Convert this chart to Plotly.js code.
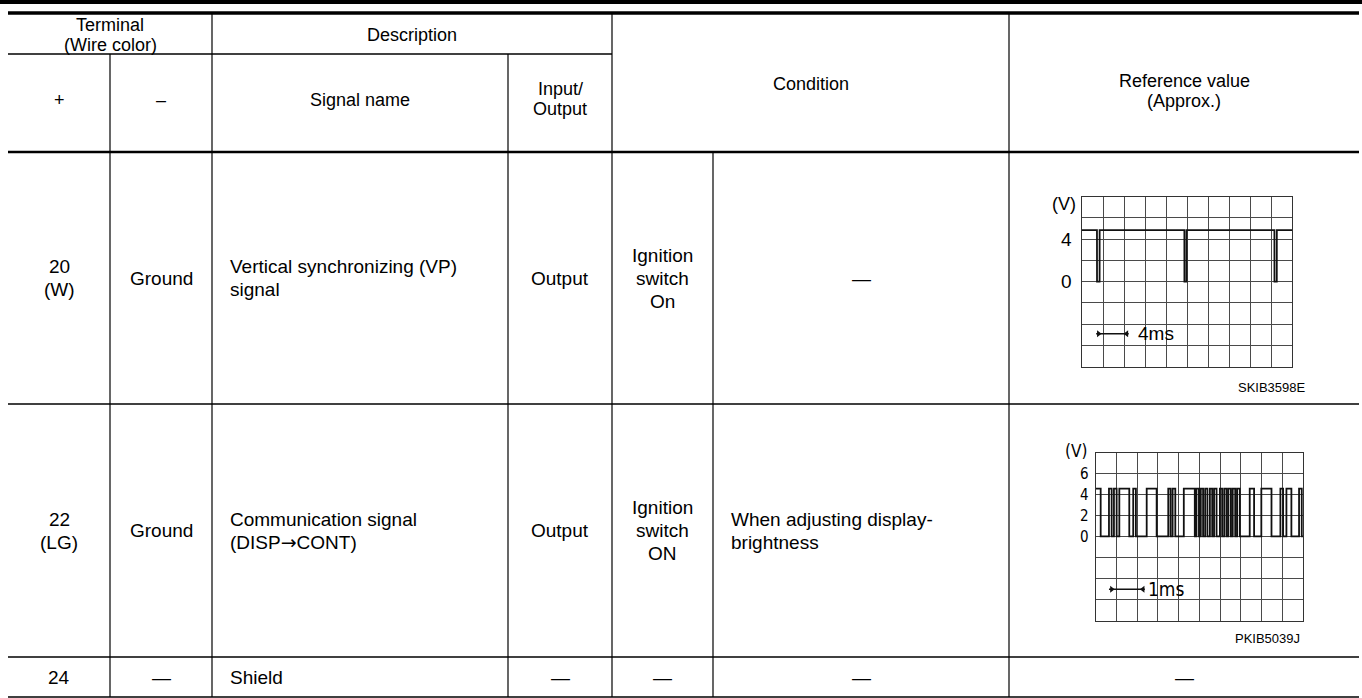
<!DOCTYPE html>
<html>
<head>
<meta charset="utf-8">
<script src="https://cdn.plot.ly/plotly-3.0.1.min.js"></script>
<style>html,body{margin:0;padding:0;background:#fff;}#chart{width:1362px;height:698px;}</style>
</head>
<body>
<div id="chart"></div>
<script>
// ---------- data ----------
const headerTop = ["Terminal<br>(Wire color)", "Description", "Condition", "Reference value<br>(Approx.)"];
const headerSub = ["+", "–", "Signal name", "Input/<br>Output"];
const terminals = ["20<br>(W)", "22<br>(LG)", "24"];
const grounds = ["Ground", "Ground", "—"];
const signalNames = ["Vertical synchronizing (VP)<br>signal", "Communication signal<br>(DISP<span style=\"font-family:DejaVu Sans\">→</span>CONT)", "Shield"];
const ioValues = ["Output", "Output", "—"];
const conditionMain = ["Ignition<br>switch<br>On", "Ignition<br>switch<br>ON", "—"];
const conditionDetail = ["—", "When adjusting display-<br>brightness", "—"];
const referenceText = ["", "", "—"];
const figureCodes = ["SKIB3598E", "PKIB5039J"];

// waveform 1: vertical sync, 4 ms/div, 2 V/div
const vpTime = [0, 2.85, 2.86, 3.35, 3.36, 19.5, 19.51, 19.9, 19.91, 36.65, 36.66, 37.1, 37.11, 40];
const vpVolt = [4.85, 4.85, 0, 0, 4.85, 4.85, 0, 0, 4.85, 4.85, 0, 0, 4.85, 4.85];
const vpTicks = [4, 0];
const vpTickText = ["4", "0"];

// waveform 2: communication signal, 1 ms/div, 2 V/div (step transitions)
const comTime = [0, 0.24, 0.64, 0.77, 0.88, 1.01, 1.14, 1.62, 1.81, 1.94, 2.46, 2.94, 3.50, 3.61, 3.71, 3.84,
  4.25, 4.78, 4.86, 4.98, 5.07, 5.18, 5.28, 5.39, 5.51, 5.62, 5.71, 5.83, 5.99, 6.10, 6.20, 6.31, 6.40,
  6.52, 6.61, 6.73, 6.82, 6.95, 7.43, 7.64, 7.99, 8.48, 8.91, 9.04, 9.20, 9.44, 9.81, 9.94, 10];
const comLevel = ["H","L","H","L","H","L","H","L","H","L","H","L","H","L","H","L",
  "H","L","H","L","H","L","H","L","H","L","H","L","H","L","H","L","H",
  "L","H","L","H","L","H","L","H","L","H","L","H","L","H","L","L"];
const comHigh = 4.6, comLow = 0.05;
const comTicks = [6, 4, 2, 0];
const comTickText = ["6", "4", "2", "0"];

// scale markers
const vpMarkTime = [2.7, 8.9];
const vpMarkHead = [3.15, 8.5];
const vpMarkVolt = -4.9;
const vpMarkLabel = "4ms";
const comMarkTime = [0.64, 2.37];
const comMarkHead = [0.77, 2.28];
const comMarkVolt = -5.0;
const comMarkLabel = "1ms";

// ---------- layout geometry (pixels) ----------
const W = 1362, H = 698;
const L = 8, R = 1359;
const colX = [8, 110, 212, 508, 612, 713, 1009, 1359];
const yTop = 13, yMid = 54, yHead = 152, rowY = [152, 404, 657, 697];

const font = "Liberation Sans, Arial, Helvetica, sans-serif";
const narrow = "Liberation Sans Narrow, DejaVu Sans Condensed, Arial Narrow, sans-serif";
const FS = 19, LS = 23;      // body font size and line step
const HFS = 18, HLS = 20;    // header

const shapes = [];
function hline(y, x0, x1, w) { shapes.push({type:"line", xref:"x", yref:"y", x0:x0, x1:x1, y0:y, y1:y, line:{color:"#000", width:w}}); }
function vline(x, y0, y1, w) { shapes.push({type:"line", xref:"x", yref:"y", x0:x, x1:x, y0:y0, y1:y1, line:{color:"#000", width:w}}); }

// top bars
shapes.push({type:"rect", xref:"x", yref:"y", x0:0, x1:W, y0:0, y1:4, fillcolor:"#000", line:{width:0}});
hline(yTop, L, R, 3.5);
hline(yMid, L, colX[4], 1.5);
hline(yHead, L, R, 2.5);
hline(rowY[1], L, R, 1.5);
hline(rowY[2], L, R, 1.5);
hline(rowY[3], L, R, 1.5);
vline(colX[1], yMid, rowY[3], 1.2);
vline(colX[2], yTop, rowY[3], 1.2);
vline(colX[3], yMid, rowY[3], 1.2);
vline(colX[4], yTop, rowY[3], 1.2);
vline(colX[5], yHead, rowY[3], 1.2);
vline(colX[6], yTop, rowY[3], 1.2);

const ann = [];
// multi-line text, each line placed separately so the line step can be controlled
function txt(t, x, y, xa, size, step, fam) {
  const lines = t.split("<br>");
  const s = size || FS, st = step || LS;
  lines.forEach((ln, i) => {
    ann.push({text:ln, xref:"x", yref:"y", x:x, y:y + (i - (lines.length - 1) / 2) * st, xanchor:xa || "center", yanchor:"middle",
      showarrow:false, font:{family:fam || font, size:s, color:"#000"}});
  });
}
const cx = i => (colX[i] + colX[i+1]) / 2;

// header
txt(headerTop[0], (colX[0]+colX[2])/2, (yTop+yMid)/2 + 1, "center", HFS, HLS);
txt(headerTop[1], (colX[2]+colX[4])/2, (yTop+yMid)/2 + 1, "center", HFS, HLS);
txt(headerTop[2], (colX[4]+colX[6])/2, 84, "center", HFS, HLS);
txt(headerTop[3], (colX[6]+colX[7])/2, 91, "center", HFS, HLS);
txt(headerSub[0], cx(0), 100, "center", HFS, HLS);
txt(headerSub[1], cx(1), 100, "center", HFS, HLS);
txt(headerSub[2], cx(2), 100, "center", HFS, HLS);
txt(headerSub[3], cx(3), 99, "center", HFS, HLS);

for (let r = 0; r < 3; r++) {
  const yc = (rowY[r] + rowY[r+1]) / 2;
  txt(terminals[r], cx(0), yc);
  txt(grounds[r], cx(1), yc);
  txt(signalNames[r], colX[2] + 16, yc, "left");
  txt(ioValues[r], cx(3), yc);
  txt(conditionMain[r], cx(4), yc);
  if (r === 1) txt(conditionDetail[r], colX[5] + 16, yc, "left");
  else txt(conditionDetail[r], cx(5), yc);
  if (referenceText[r]) txt(referenceText[r], cx(6), yc);
}

// scope labels
txt("(V)", 1064, 204, "center", 18);
txt(figureCodes[0], 1308, 387, "right", 13);
txt("(V)", 1076, 451, "center", 17, LS, narrow);
txt(figureCodes[1], 1302, 638, "right", 13);

vpTicks.forEach((v, i) => ann.push({text:vpTickText[i], xref:"x2 domain", yref:"y2", x:-0.04, y:v, xanchor:"right", yanchor:"middle",
  showarrow:false, font:{family:font, size:19, color:"#000"}}));
comTicks.forEach((v, i) => ann.push({text:comTickText[i], xref:"x3 domain", yref:"y3", x:-0.022, y:v, xanchor:"right", yanchor:"middle",
  showarrow:false, font:{family:narrow, size:15, color:"#000"}}));
ann.push({text:vpMarkLabel, xref:"x2", yref:"y2", x:10.2, y:vpMarkVolt, xanchor:"left", yanchor:"middle", showarrow:false,
  font:{family:font, size:19, color:"#000"}});
ann.push({text:comMarkLabel, xref:"x3", yref:"y3", x:2.45, y:comMarkVolt, xanchor:"left", yanchor:"middle", showarrow:false,
  font:{family:narrow, size:19, color:"#000"}});

const px = v => v / W, py = v => 1 - v / H;

const scopeAxis = (dom, range, dtick) => ({domain:dom, range:range, dtick:dtick, tick0:0, showgrid:true, gridcolor:"#4a4a4a", gridwidth:1,
  zeroline:false, showline:true, mirror:true, linecolor:"#333", linewidth:1.2, showticklabels:false, ticks:"", fixedrange:true});

const traces = [
  {x:[], y:[], xaxis:"x", yaxis:"y", type:"scatter", hoverinfo:"skip", showlegend:false},
  {x:vpTime, y:vpVolt, xaxis:"x2", yaxis:"y2", type:"scatter", mode:"lines", line:{color:"#111", width:1.8}, showlegend:false, hoverinfo:"skip"},
  {x:vpMarkTime, y:vpMarkTime.map(() => vpMarkVolt), xaxis:"x2", yaxis:"y2", type:"scatter", mode:"lines", line:{color:"#111", width:1.3}, showlegend:false, hoverinfo:"skip"},
  {x:vpMarkHead, y:vpMarkHead.map(() => vpMarkVolt), xaxis:"x2", yaxis:"y2", type:"scatter", mode:"markers",
    marker:{symbol:["triangle-right","triangle-left"], size:6, color:"#111"}, showlegend:false, hoverinfo:"skip"},
  {x:comTime, y:comLevel.map(s => s === "H" ? comHigh : comLow), xaxis:"x3", yaxis:"y3", type:"scatter", mode:"lines",
    line:{color:"#111", width:1.8, shape:"hv"}, showlegend:false, hoverinfo:"skip"},
  {x:comMarkTime, y:comMarkTime.map(() => comMarkVolt), xaxis:"x3", yaxis:"y3", type:"scatter", mode:"lines", line:{color:"#111", width:1.3}, showlegend:false, hoverinfo:"skip"},
  {x:comMarkHead, y:comMarkHead.map(() => comMarkVolt), xaxis:"x3", yaxis:"y3", type:"scatter", mode:"markers",
    marker:{symbol:["triangle-right","triangle-left"], size:6, color:"#111"}, showlegend:false, hoverinfo:"skip"}
];

const layout = {
  width:W, height:H, margin:{l:0, r:0, t:0, b:0}, paper_bgcolor:"#fff", plot_bgcolor:"rgba(0,0,0,0)", showlegend:false,
  xaxis:{domain:[0,1], range:[0,W], visible:false, fixedrange:true},
  yaxis:{domain:[0,1], range:[H,0], visible:false, fixedrange:true},
  xaxis2:Object.assign(scopeAxis([px(1082), px(1292)], [0,40], 4), {anchor:"y2"}),
  yaxis2:Object.assign(scopeAxis([py(366.7), py(196.7)], [-8,8], 2), {anchor:"x2"}),
  xaxis3:Object.assign(scopeAxis([px(1095.7), px(1303)], [0,10], 1), {anchor:"y3"}),
  yaxis3:Object.assign(scopeAxis([py(620.7), py(453)], [-8,8], 2), {anchor:"x3"}),
  shapes:shapes, annotations:ann
};

Plotly.newPlot("chart", traces, layout, {staticPlot:true, displayModeBar:false});
</script>
</body>
</html>
